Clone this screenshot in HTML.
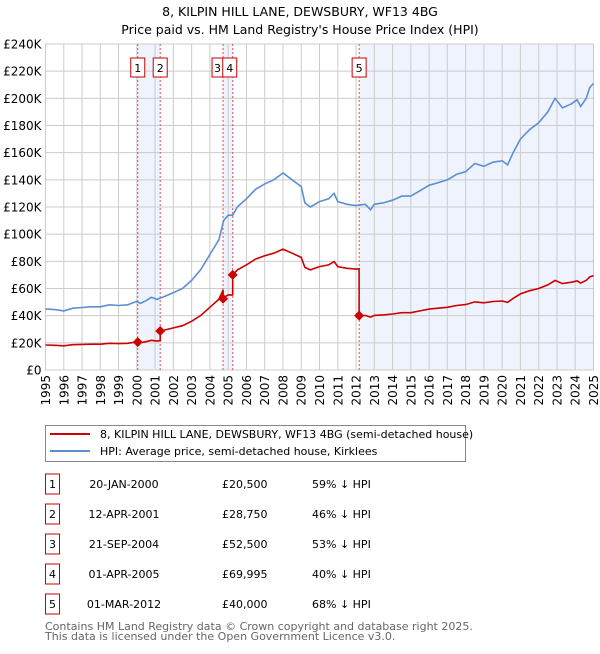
<!DOCTYPE html>
<html><head><meta charset="utf-8"><style>
body{margin:0;background:#fff;font-family:"DejaVu Sans","Liberation Sans",sans-serif;}
svg text{font-family:"DejaVu Sans","Liberation Sans",sans-serif;}
</style></head><body>
<svg id="chart" width="600" height="650" xmlns="http://www.w3.org/2000/svg">
<text x="300" y="16" text-anchor="middle" font-size="12.5">8, KILPIN HILL LANE, DEWSBURY, WF13 4BG</text>
<text x="300" y="34" text-anchor="middle" font-size="12.5">Price paid vs. HM Land Registry's House Price Index (HPI)</text>
<g id="plot"></g>
<g>
<rect x="45.5" y="425.5" width="420" height="36" fill="#fff" stroke="#888"/>
<line x1="50" y1="434" x2="90" y2="434" stroke="#cc0000" stroke-width="2"/>
<text x="100" y="438" font-size="11">8, KILPIN HILL LANE, DEWSBURY, WF13 4BG (semi-detached house)</text>
<line x1="50" y1="451" x2="90" y2="451" stroke="#5b8fd4" stroke-width="2"/>
<text x="100" y="455" font-size="11">HPI: Average price, semi-detached house, Kirklees</text>
</g>
<g id="table"></g>
<text x="45" y="630" font-size="11" fill="#666">Contains HM Land Registry data © Crown copyright and database right 2025.</text>
<text x="45" y="640" font-size="11" fill="#666">This data is licensed under the Open Government Licence v3.0.</text>
</svg>
<script>
const hpiYears=[1995,1995.5,1996,1996.5,1997,1997.5,1998,1998.5,1999,1999.5,2000,2000.2,2000.5,2000.8,2001.1,2001.5,2002,2002.5,2003,2003.5,2004,2004.5,2004.75,2005,2005.25,2005.5,2006,2006.5,2007,2007.5,2008,2008.5,2009,2009.2,2009.5,2010,2010.5,2010.8,2011,2011.5,2012,2012.5,2012.8,2013,2013.5,2014,2014.5,2015,2015.5,2016,2016.5,2017,2017.5,2018,2018.5,2019,2019.5,2020,2020.3,2020.6,2021,2021.5,2022,2022.5,2022.9,2023.3,2023.8,2024.1,2024.3,2024.6,2024.8,2025];
const hpiValues=[45,44.5,43.5,45.5,46,46.5,46.5,48,47.5,48,50.5,49,51,53.5,52,54,57,60,66,74,85,96,110,114,114,120,126,133,137,140,145,140,135,123,120,124,126,130,124,122,121,122,118,122,123,125,128,128,132,136,138,140,144,146,152,150,153,154,151,160,170,177,182,190,200,193,196,199,194,200,208,211];
const saleDates=[2000.05,2001.28,2004.72,2005.25,2012.17];
const salePrices=[20500,28750,52500,69995,40000];
const saleLabels=["20-JAN-2000","12-APR-2001","21-SEP-2004","01-APR-2005","01-MAR-2012"];
const salePriceText=["£20,500","£28,750","£52,500","£69,995","£40,000"];
const saleHpiText=["59% ↓ HPI","46% ↓ HPI","53% ↓ HPI","40% ↓ HPI","68% ↓ HPI"];
const yTicks=[0,20,40,60,80,100,120,140,160,180,200,220,240];
const xTicks=[1995,1996,1997,1998,1999,2000,2001,2002,2003,2004,2005,2006,2007,2008,2009,2010,2011,2012,2013,2014,2015,2016,2017,2018,2019,2020,2021,2022,2023,2024,2025];

const L=45.5,R=593.5,T=44,B=370;
const X=t=>L+(t-1995)/30*(R-L);
const Y=v=>B-v/240*(B-T);
const NS="http://www.w3.org/2000/svg";
const plot=document.getElementById('plot');
function mk(tag,attrs,parent){const e=document.createElementNS(NS,tag);for(const k in attrs)e.setAttribute(k,attrs[k]);(parent||plot).appendChild(e);return e;}
function hpiAt(t){for(let i=0;i<hpiYears.length-1;i++){if(t<=hpiYears[i+1]){const f=(t-hpiYears[i])/(hpiYears[i+1]-hpiYears[i]);return hpiValues[i]+f*(hpiValues[i+1]-hpiValues[i]);}}return hpiValues[hpiValues.length-1];}

const spans=[[0,1],[2,3],[4,null]];
spans.forEach(s=>{const a=X(saleDates[s[0]]),b=s[1]===null?R:X(saleDates[s[1]]);
const r=mk('rect',{x:a,y:T,width:b-a,height:B-T,fill:'#eef3fd'});

});
yTicks.forEach(v=>{const l=mk('line',{x1:L,x2:R,y1:Y(v),y2:Y(v),stroke:'#ccc'});


const t=mk('text',{x:L-4,y:Y(v)+4.5,'text-anchor':'end','font-size':'12'});t.textContent=v===0?'£0':'£'+v+'K';

});
xTicks.forEach(y=>{const l=mk('line',{x1:X(y),x2:X(y),y1:T,y2:B,stroke:'#ccc'});


const t=mk('text',{x:0,y:0,'font-size':'12','text-anchor':'end',transform:`translate(${X(y)+4.5},${B+5}) rotate(-90)`});t.textContent=y;

});
const fr=mk('rect',{x:L,y:T,width:R-L,height:B-T,fill:'none',stroke:'#ccc'});


const boxOff=[0,0,-5.5,-3,0];
saleDates.forEach((d,i)=>{const l=mk('line',{x1:X(d),x2:X(d),y1:T,y2:B,stroke:'#e05050','stroke-dasharray':'2,2','stroke-width':'1'});


const w=(i===2)?11:14;
const cx=X(d)+boxOff[i];
const bx=mk('rect',{x:cx-w/2,y:58,width:w,height:19,fill:'#fff',stroke:'#cc0000'});


const t=mk('text',{x:cx,y:72,'text-anchor':'middle','font-size':'11'});t.textContent=i+1;

});
let p='';for(let i=0;i<hpiYears.length;i++)p+=(i?'L':'M')+X(hpiYears[i]).toFixed(1)+','+Y(hpiValues[i]).toFixed(1);
const hl=mk('path',{d:p,fill:'none',stroke:'#5b8fd4','stroke-width':'1.6'});


let pts=[];
function seg(t0,t1,k){const base=salePrices[k]/1000/hpiAt(saleDates[k]);const ts=[t0];hpiYears.forEach(y=>{if(y>t0&&y<t1)ts.push(y);});ts.push(t1);ts.forEach(t=>pts.push([t,base*hpiAt(t)]));}
seg(1995,saleDates[1],0);
for(let k=1;k<5;k++)seg(saleDates[k],k<4?saleDates[k+1]:2025,k);
let q='';pts.forEach((a,i)=>q+=(i?'L':'M')+X(a[0]).toFixed(1)+','+Y(a[1]).toFixed(1));
const pl=mk('path',{d:q,fill:'none',stroke:'#cc0000','stroke-width':'1.6'});


saleDates.forEach((d,i)=>{const cx=X(d),cy=Y(salePrices[i]/1000);
const m=mk('path',{d:`M${cx},${cy-5}L${cx+5},${cy}L${cx},${cy+5}L${cx-5},${cy}Z`,fill:'#cc0000'});

});
const tb=document.getElementById('table');
saleDates.forEach((d,i)=>{const y=487+i*30;
const b=mk('rect',{x:45.5,y:y-13,width:14,height:20,fill:'#fff',stroke:'#cc0000'},tb);


const n=mk('text',{x:52.5,y:y+1,'text-anchor':'middle','font-size':'11'},tb);n.textContent=i+1;


const a=mk('text',{x:124,y:y+1,'text-anchor':'middle','font-size':'11'},tb);a.textContent=saleLabels[i];


const c=mk('text',{x:222,y:y+1,'font-size':'11'},tb);c.textContent=salePriceText[i];


const e=mk('text',{x:312,y:y+1,'font-size':'11'},tb);e.textContent=saleHpiText[i];

});
</script>
</body></html>
